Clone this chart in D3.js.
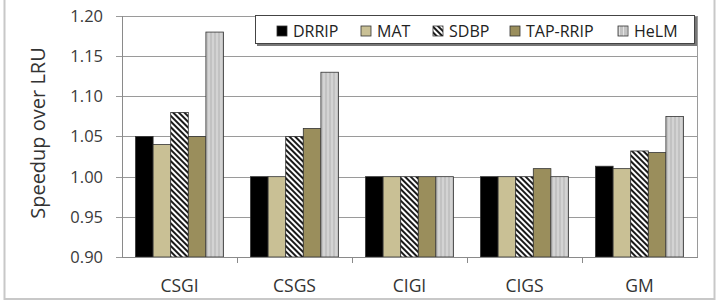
<!DOCTYPE html>
<html>
<head>
<meta charset="utf-8">
<script src="https://cdn.jsdelivr.net/npm/d3@7"></script>
<style>
  body { margin: 0; background: #fff; }
  svg { display: block; font-family: "Open Sans", sans-serif; }
</style>
</head>
<body>
<svg id="chart" width="726" height="302"></svg>
<script>
// benchmarks on the x axis
var categories = ['CSGI', 'CSGS', 'CIGI', 'CIGS', 'GM'];

// one array per policy
var series = ['DRRIP', 'MAT', 'SDBP', 'TAP-RRIP', 'HeLM'];
var drrip   = [1.05, 1.00, 1.00, 1.00, 1.013];
var mat     = [1.04, 1.00, 1.00, 1.00, 1.010];
var sdbp    = [1.08, 1.05, 1.00, 1.00, 1.032];
var taprrip = [1.05, 1.06, 1.00, 1.01, 1.030];
var helm    = [1.18, 1.13, 1.00, 1.00, 1.075];

var yTicks = [0.90, 0.95, 1.00, 1.05, 1.10, 1.15, 1.20];

var values = [drrip, mat, sdbp, taprrip, helm];

var svg = d3.select('#chart');

// patterns for the striped bars
var defs = svg.append('defs');

var diag = defs.append('pattern')
  .attr('id', 'diag')
  .attr('patternUnits', 'userSpaceOnUse')
  .attr('width', 4).attr('height', 4)
  .attr('patternTransform', 'rotate(45)');
diag.append('rect').attr('width', 4).attr('height', 4).attr('fill', '#fff');
diag.append('rect').attr('width', 4).attr('height', 2).attr('fill', '#1a1a1a');

var vert = defs.append('pattern')
  .attr('id', 'vert')
  .attr('patternUnits', 'userSpaceOnUse')
  .attr('width', 4).attr('height', 4);
vert.append('rect').attr('width', 4).attr('height', 4).attr('fill', '#c2c2c2');
vert.append('rect').attr('x', 1).attr('width', 1).attr('height', 4).attr('fill', '#e4e4e4');

var fills = ['#000', '#c9c095', 'url(#diag)', '#9a8e5c', 'url(#vert)'];

// outer frame
svg.append('rect')
  .attr('x', 4.5).attr('y', -2).attr('width', 710).attr('height', 301)
  .attr('fill', 'none').attr('stroke', '#c8c8c8').attr('stroke-width', 2);

var margin = {left: 122, right: 697, top: 16, bottom: 257};

var x = d3.scaleBand()
  .domain(categories)
  .range([margin.left, margin.right])
  .paddingInner(0.235)
  .paddingOuter(0.1175);

var xs = d3.scaleBand()
  .domain(series)
  .range([0, x.bandwidth()]);

var y = d3.scaleLinear()
  .domain([0.90, 1.20])
  .range([margin.bottom, margin.top]);

// gridlines
svg.append('g')
  .selectAll('line')
  .data(yTicks)
  .enter().append('line')
  .attr('x1', margin.left - 6).attr('x2', margin.right)
  .attr('y1', function(d) { return Math.round(y(d)) + 0.5; })
  .attr('y2', function(d) { return Math.round(y(d)) + 0.5; })
  .attr('stroke', '#9a9a9a')
  .attr('stroke-width', 1);

// left axis + right border of plot area
svg.append('line')
  .attr('x1', margin.left + 0.5).attr('x2', margin.left + 0.5)
  .attr('y1', margin.top).attr('y2', margin.bottom + 1)
  .attr('stroke', '#8a8a8a');
svg.append('line')
  .attr('x1', margin.right + 0.5).attr('x2', margin.right + 0.5)
  .attr('y1', margin.top).attr('y2', margin.bottom)
  .attr('stroke', '#9a9a9a');

// y tick labels
svg.append('g')
  .selectAll('text')
  .data(yTicks)
  .enter().append('text')
  .attr('x', 103)
  .attr('y', function(d) { return y(d); })
  .attr('dy', '0.36em')
  .attr('text-anchor', 'end')
  .attr('font-size', 16.5)
  .attr('fill', '#3a3a3a')
  .text(function(d) { return d.toFixed(2); });

// y axis title
svg.append('text')
  .attr('transform', 'translate(45,' + 133 + ') rotate(-90)')
  .attr('text-anchor', 'middle')
  .attr('font-size', 20)
  .attr('fill', '#333')
  .text('Speedup over LRU');

// bars
var groups = svg.append('g')
  .selectAll('g')
  .data(categories)
  .enter().append('g')
  .attr('transform', function(d) { return 'translate(' + x(d) + ',0)'; });

groups.selectAll('rect')
  .data(function(c, ci) {
    return series.map(function(s, si) { return {s: s, si: si, v: values[si][ci]}; });
  })
  .enter().append('rect')
  .attr('x', function(d) { return xs(d.s); })
  .attr('width', xs.bandwidth())
  .attr('y', function(d) { return y(d.v); })
  .attr('height', function(d) { return y(0.90) - y(d.v); })
  .attr('fill', function(d) { return fills[d.si]; })
  .attr('stroke', '#333')
  .attr('stroke-width', 0.8);

// x axis line and ticks
svg.append('line')
  .attr('x1', margin.left).attr('x2', margin.right + 1)
  .attr('y1', margin.bottom + 0.5).attr('y2', margin.bottom + 0.5)
  .attr('stroke', '#8a8a8a');

var step = x.step();
svg.append('g')
  .selectAll('line')
  .data(categories.slice(1))
  .enter().append('line')
  .attr('x1', function(d) { return x(d) - step * x.paddingInner() / 2 + 0.5; })
  .attr('x2', function(d) { return x(d) - step * x.paddingInner() / 2 + 0.5; })
  .attr('y1', margin.bottom).attr('y2', margin.bottom + 6)
  .attr('stroke', '#8a8a8a');

// category labels
svg.append('g')
  .selectAll('text')
  .data(categories)
  .enter().append('text')
  .attr('x', function(d) { return x(d) + x.bandwidth() / 2; })
  .attr('y', 292)
  .attr('text-anchor', 'middle')
  .attr('font-size', 17.5)
  .attr('fill', '#333')
  .text(function(d) { return d; });

// legend with a drop shadow
var legend = svg.append('g');
legend.append('rect')
  .attr('x', 257).attr('y', 17).attr('width', 440).attr('height', 29)
  .attr('fill', '#777');
legend.append('rect')
  .attr('x', 255.5).attr('y', 15.5).attr('width', 439).attr('height', 28)
  .attr('fill', '#fff').attr('stroke', '#444');

var legendX = [277, 361, 433, 510, 618];
var item = legend.selectAll('g.item')
  .data(series)
  .enter().append('g')
  .attr('class', 'item')
  .attr('transform', function(d, i) { return 'translate(' + legendX[i] + ',31)'; });

item.append('rect')
  .attr('x', 0).attr('y', -5).attr('width', 10).attr('height', 10)
  .attr('fill', function(d, i) { return fills[i]; })
  .attr('stroke', '#333').attr('stroke-width', 0.8);

item.append('text')
  .attr('x', 16).attr('y', 0).attr('dy', '0.36em')
  .attr('font-size', 16)
  .attr('fill', '#222')
  .text(function(d) { return d; });
</script>
</body>
</html>
